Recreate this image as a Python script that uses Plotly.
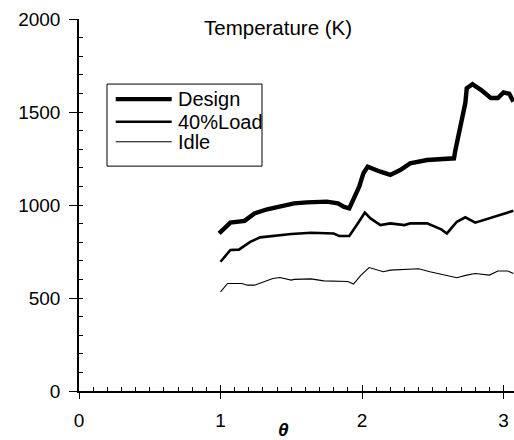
import plotly.graph_objects as go

# Temperature profiles along theta for three operating conditions
design_theta = [0.99, 1.07, 1.17, 1.24, 1.33, 1.42, 1.52, 1.61, 1.75, 1.83, 1.87, 1.91,
                1.94, 1.98, 2.01, 2.04, 2.13, 2.20, 2.27, 2.34, 2.46, 2.65, 2.66, 2.70,
                2.73, 2.74, 2.78, 2.84, 2.91, 2.96, 3.00, 3.04, 3.07]
design_T = [847, 905, 915, 955, 977, 995, 1009, 1014, 1018, 1009, 991, 982,
            1027, 1099, 1171, 1206, 1179, 1162, 1188, 1224, 1242, 1251, 1296, 1440,
            1548, 1628, 1650, 1619, 1575, 1575, 1605, 1598, 1556]

load_theta = [1.00, 1.07, 1.13, 1.21, 1.28, 1.35, 1.50, 1.64, 1.80, 1.84, 1.91, 1.97,
              2.02, 2.06, 2.13, 2.20, 2.30, 2.34, 2.46, 2.56, 2.60, 2.67, 2.73, 2.80,
              2.87, 2.96, 3.07]
load_T = [695, 758, 760, 802, 826, 833, 844, 851, 847, 833, 833, 901,
          959, 928, 892, 901, 892, 901, 901, 869, 847, 910, 934, 905,
          921, 941, 969]

idle_theta = [1.00, 1.05, 1.15, 1.19, 1.24, 1.31, 1.37, 1.42, 1.50, 1.52, 1.64, 1.73,
              1.90, 1.94, 1.99, 2.05, 2.15, 2.20, 2.40, 2.48, 2.58, 2.67, 2.74, 2.80,
              2.90, 2.96, 3.03, 3.07]
idle_T = [533, 578, 578, 569, 569, 587, 605, 610, 596, 600, 603, 592,
          589, 575, 620, 664, 641, 650, 657, 641, 623, 609, 623, 632,
          623, 645, 645, 632]

series_names = ["Design", "40%Load", "Idle"]
series_widths = [4.4, 2.6, 1.1]
# each series sits on a set of matched axes; the overlay axes only add tick marks
series_xaxes = ["x", "x3", "x2"]
series_yaxes = ["y", "y2", "y"]

FONT = "Liberation Sans, Arial, Helvetica, sans-serif"
X_RANGE = [0, 3.074]
Y_RANGE = [0, 2000]

fig = go.Figure()
for xs, ys, name, w, xa, ya in zip([design_theta, load_theta, idle_theta],
                                   [design_T, load_T, idle_T], series_names,
                                   series_widths, series_xaxes, series_yaxes):
    fig.add_trace(go.Scatter(x=xs, y=ys, mode="lines", name=name, xaxis=xa, yaxis=ya,
                             line=dict(color="black", width=w), showlegend=False))

overlay = dict(showticklabels=False, showgrid=False, zeroline=False, showline=False,
               tickcolor="black", tickmode="linear", tick0=0)

fig.update_layout(
    width=514, height=440,
    margin=dict(l=79, r=0, t=19, b=49),
    paper_bgcolor="white", plot_bgcolor="white",
    font=dict(family=FONT, size=19, color="black"),
    xaxis=dict(range=X_RANGE, tickmode="linear", tick0=0, dtick=1, showgrid=False,
               zeroline=False, showline=True, linecolor="black", linewidth=1.5,
               ticks="outside", ticklen=6, tickwidth=1.2, tickcolor="black",
               ticklabelstandoff=5),
    # inner half of the major x ticks
    xaxis2=dict(range=X_RANGE, overlaying="x", anchor="y", matches="x",
                dtick=1, ticks="inside", ticklen=6, tickwidth=1.2, **overlay),
    # minor x ticks
    xaxis3=dict(range=X_RANGE, overlaying="x", anchor="y", matches="x",
                dtick=0.1, ticks="inside", ticklen=4, tickwidth=1, **overlay),
    yaxis=dict(range=Y_RANGE, tickmode="linear", tick0=0, dtick=500, showgrid=False,
               zeroline=False, showline=True, linecolor="black", linewidth=1.5,
               ticks="outside", ticklen=8, tickwidth=1.2, tickcolor="black",
               ticklabelstandoff=5),
    # minor y ticks
    yaxis2=dict(range=Y_RANGE, overlaying="y", anchor="x", matches="y", side="left",
                dtick=100, ticks="inside", ticklen=4, tickwidth=1, **overlay),
)

# legend box drawn in paper coordinates
shapes = [dict(type="rect", xref="paper", yref="paper", x0=0.0644, x1=0.4207,
               y0=0.6045, y1=0.8251, line=dict(color="black", width=1), fillcolor="white",
               layer="above")]
annotations = []
row_y = [0.7845, 0.7237, 0.6699]
for name, w, yy in zip(series_names, series_widths, row_y):
    shapes.append(dict(type="line", xref="paper", yref="paper", x0=0.0844, x1=0.2131,
                       y0=yy, y1=yy, line=dict(color="black", width=w), layer="above"))
    annotations.append(dict(text=name, xref="paper", yref="paper", x=0.2230, y=yy,
                            xanchor="left", yanchor="middle", showarrow=False,
                            font=dict(family=FONT, size=20, color="black")))

annotations.append(dict(text="Temperature (K)", xref="paper", yref="paper", x=0.4575, y=0.976,
                        xanchor="center", yanchor="middle", showarrow=False,
                        font=dict(family=FONT, size=20.5, color="black")))
annotations.append(dict(text="<b><i>θ</i></b>", xref="paper", yref="paper", x=0.471, y=-0.103,
                        xanchor="center", yanchor="middle", showarrow=False,
                        font=dict(family=FONT, size=19, color="black")))

fig.update_layout(shapes=shapes, annotations=annotations)

fig.write_html("out.html")
